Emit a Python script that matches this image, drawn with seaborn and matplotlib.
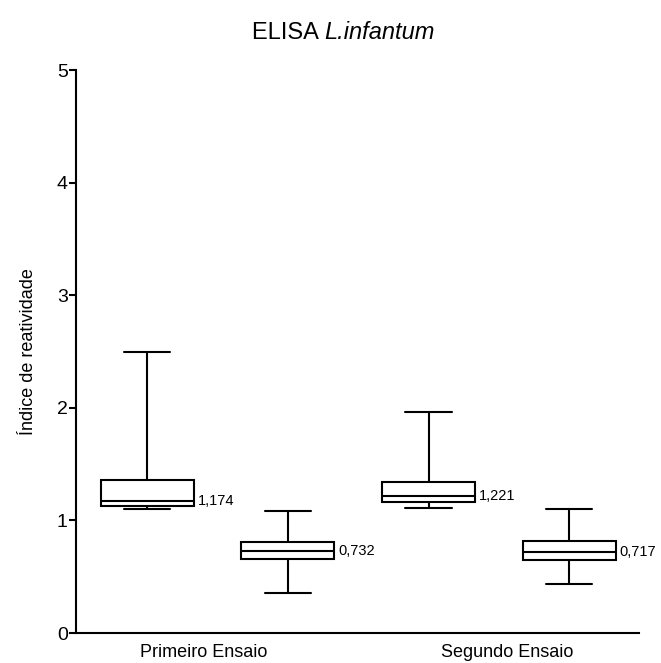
import pandas as pd
import matplotlib.pyplot as plt
import seaborn as sns

# valores: [min, Q1, mediana, Q3, max] por caixa
caixas = ['P1', 'P2', 'S1', 'S2']
p1 = [1.10, 1.13, 1.174, 1.36, 2.50]
p2 = [0.36, 0.655, 0.732, 0.81, 1.08]
s1 = [1.11, 1.165, 1.221, 1.34, 1.965]
s2 = [0.435, 0.645, 0.717, 0.815, 1.10]
medianas = [1.174, 0.732, 1.221, 0.717]
rotulos_medianas = ['1,174', '0,732', '1,221', '0,717']
ensaios = ['Primeiro Ensaio', 'Segundo Ensaio']

df = pd.DataFrame({
    'caixa': [c for c, v in zip(caixas, [p1, p2, s1, s2]) for _ in v],
    'indice': p1 + p2 + s1 + s2,
})

sns.set_style('ticks')
plt.rcParams['font.family'] = ['Liberation Sans', 'DejaVu Sans']
plt.rcParams['text.color'] = 'black'
plt.rcParams['axes.labelcolor'] = 'black'
plt.rcParams['xtick.color'] = 'black'
plt.rcParams['ytick.color'] = 'black'

fig = plt.figure(figsize=(6.61, 6.63), dpi=100)
ax = fig.add_axes([0.115, 0.0452, 0.852, 0.849])

largura = 0.66
sns.boxplot(data=df, x='caixa', y='indice', order=caixas, whis=(0, 100),
            width=largura, color='white', linecolor='black', linewidth=1.5,
            showfliers=False, ax=ax)

for i, (m, r) in enumerate(zip(medianas, rotulos_medianas)):
    ax.annotate(r, (i + largura / 2, m), xytext=(3, 0), textcoords='offset points',
                va='center', ha='left', fontsize=10.5)

ax.set_xlim(-0.505, 3.497)
ax.set_ylim(0, 5)
ax.set_yticks([0, 1, 2, 3, 4, 5])
ax.set_xticks([0.405, 2.56], ensaios)
ax.tick_params(axis='x', length=0, labelsize=13, pad=8)
ax.tick_params(axis='y', length=5, width=1.5, labelsize=14, pad=1)
ax.set_xlabel('')
ax.set_ylabel('Índice de reatividade', fontsize=13, labelpad=14)
for s in ['left', 'bottom']:
    ax.spines[s].set_linewidth(1.5)
    ax.spines[s].set_color('black')
sns.despine(ax=ax)

# titulo: parte normal + parte em italico
t1 = ax.text(0.44, 1.055, 'ELISA ', transform=ax.transAxes,
             ha='right', va='baseline', fontsize=17)
ax.annotate('L.infantum', xy=(1, 0), xycoords=t1, ha='left', va='bottom',
            fontsize=17, style='italic')

plt.savefig('out.png', dpi=100)
